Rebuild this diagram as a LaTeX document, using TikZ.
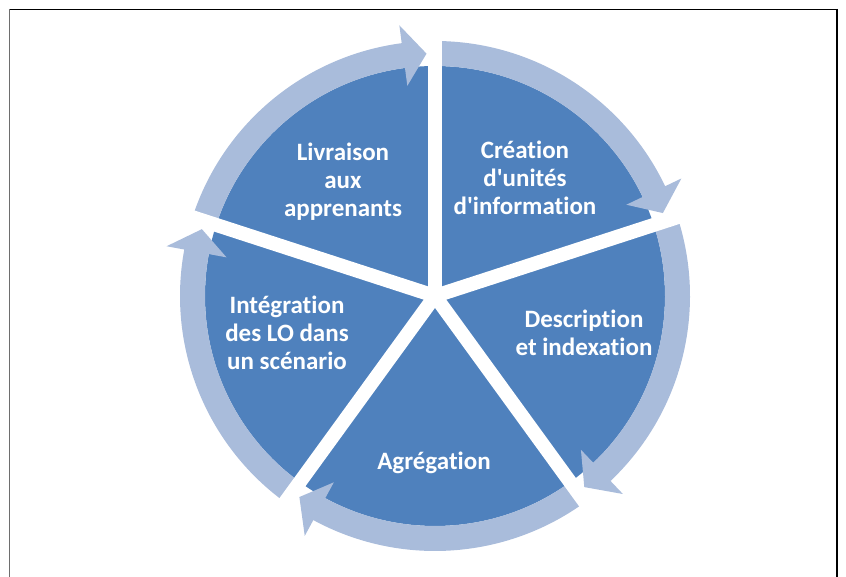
\documentclass[tikz,border=0pt]{standalone}
\usepackage{fontspec}
\setmainfont{Carlito}[Ligatures={CommonOff,TeXOff}]
\definecolor{pieblue}{HTML}{4F81BD}
\definecolor{ringblue}{HTML}{A9BCDB}
\definecolor{framegray}{HTML}{6E6E6E}
\tikzset{
  label/.style={text=white, font=\bfseries\fontsize{25}{28}\selectfont, align=center, inner sep=0pt},
  ringarrow/.style={fill=ringblue},
  gapline/.style={draw=white, line width=14pt},
}
\begin{document}
\begin{tikzpicture}
\useasboundingbox (-435pt,-281pt) rectangle (411pt,296pt);
% pie
\fill[pieblue] (0,0) circle[radius=230pt];
% ring arrows
\foreach \a in {90,18,-54,-126,-198}{
  \pgfmathsetmacro{\b}{\a-70}
  \pgfmathsetmacro{\h}{\a-64.5}
  \fill[ringarrow] (\a:255pt) arc[start angle=\a, end angle=\h, radius=255pt]
    -- (\h:273pt) -- (\b:242.5pt) -- (\h:212pt) -- (\h:230pt)
    arc[start angle=\h, end angle=\a, radius=230pt] -- cycle;
}
% gaps
\coordinate (c) at (0,0);
\foreach \g/\n in {90/g1,18/g2,-54/g3,-126/g4,162/g5}{
  \coordinate (\n) at (\g:278pt);
  \draw[gapline] (c) -- (\n);
}
% frame
\draw[black, line width=1.6pt] (-426pt,286.5pt) -- (402pt,286.5pt);
\draw[framegray, line width=1.6pt] (-425.5pt,287pt) -- (-425.5pt,-281pt);
\draw[black, line width=1.2pt] (402pt,287pt) -- (402pt,-281pt);
% labels
\node[label] (livraison) at (-92pt,114pt) {Livraison\\aux\\apprenants};
\node[label] (creation) at (90pt,118pt) {Création\\d'unités\\d'information};
\node[label] (description) at (149pt,-37pt) {Description\\et indexation};
\node[label] (agregation) at (-1pt,-167pt) {Agrégation};
\node[label] (integration) at (-148pt,-37pt) {Intégration\\des LO dans\\un scénario};
\end{tikzpicture}
\end{document}
